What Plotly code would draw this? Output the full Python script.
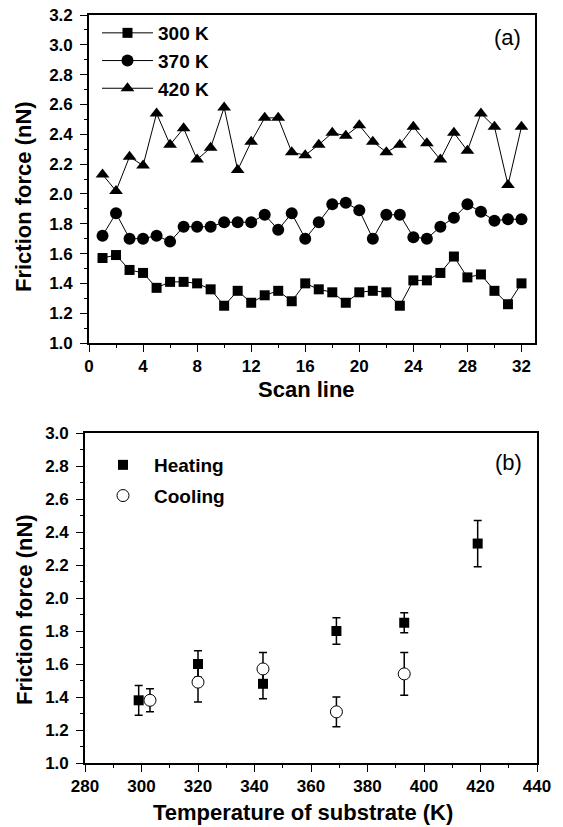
import plotly.graph_objects as go

# ---- Panel (a) data ----
scan_line = list(range(1, 33))
f_300K = [1.57, 1.59, 1.49, 1.47, 1.37, 1.41, 1.41, 1.40, 1.36, 1.25, 1.35, 1.27, 1.32, 1.35, 1.28, 1.40,
          1.36, 1.34, 1.27, 1.34, 1.35, 1.34, 1.25, 1.42, 1.42, 1.47, 1.58, 1.44, 1.46, 1.35, 1.26, 1.40]
f_370K = [1.72, 1.87, 1.70, 1.70, 1.72, 1.68, 1.78, 1.78, 1.78, 1.81, 1.81, 1.81, 1.86, 1.76, 1.87, 1.70,
          1.81, 1.93, 1.94, 1.89, 1.70, 1.86, 1.86, 1.71, 1.70, 1.78, 1.84, 1.93, 1.88, 1.82, 1.83, 1.83]
f_420K = [2.13, 2.02, 2.25, 2.19, 2.54, 2.33, 2.44, 2.23, 2.31, 2.58, 2.16, 2.35, 2.51, 2.51, 2.28, 2.26,
          2.33, 2.41, 2.39, 2.46, 2.35, 2.28, 2.33, 2.45, 2.34, 2.23, 2.41, 2.29, 2.54, 2.45, 2.06, 2.45]

# ---- Panel (b) data ----
heat_T = [299, 320, 343, 369, 393, 419]
heat_F = [1.38, 1.60, 1.48, 1.80, 1.85, 2.33]
heat_err = [0.09, 0.08, 0.09, 0.08, 0.06, 0.14]
cool_T = [303, 320, 343, 369, 393]
cool_F = [1.38, 1.49, 1.57, 1.31, 1.54]
cool_err = [0.07, 0.12, 0.10, 0.09, 0.13]

FONT = "Liberation Sans, Arial, sans-serif"
W, H = 563, 827
ML, MR, MT, MB = 85, 26, 15, 64
PW, PH = W - ML - MR, H - MT - MB

def px_x(p):
    return (p - ML) / PW

def px_y(p):
    return (H - MB - p) / PH

fig = go.Figure()

line_style = dict(color="black", width=1)
fig.add_trace(go.Scatter(x=scan_line, y=f_300K, mode="lines+markers", name="300 K",
                         line=line_style, marker=dict(symbol="square", size=10, color="black"),
                         xaxis="x", yaxis="y", legend="legend", legendgroup="a1"))
fig.add_trace(go.Scatter(x=scan_line, y=f_370K, mode="lines+markers", name="370 K",
                         line=line_style, marker=dict(symbol="circle", size=12, color="black"),
                         xaxis="x", yaxis="y", legend="legend", legendgroup="a2"))
fig.add_trace(go.Scatter(x=scan_line, y=f_420K, mode="lines+markers", name="420 K",
                         line=line_style, marker=dict(symbol="triangle-up", size=12, color="black"),
                         xaxis="x", yaxis="y", legend="legend", legendgroup="a3"))

fig.add_trace(go.Scatter(x=heat_T, y=heat_F, mode="markers", name="Heating",
                         marker=dict(symbol="square", size=10, color="black"),
                         error_y=dict(type="data", array=heat_err, color="black", thickness=1.5, width=4),
                         xaxis="x2", yaxis="y2", legend="legend2", legendgroup="b1"))
fig.add_trace(go.Scatter(x=cool_T, y=cool_F, mode="markers", name="Cooling",
                         marker=dict(symbol="circle", size=12, color="white",
                                     line=dict(color="black", width=1)),
                         error_y=dict(type="data", array=cool_err, color="black", thickness=1.5, width=4),
                         xaxis="x2", yaxis="y2", legend="legend2", legendgroup="b2"))

tickfont = dict(family=FONT, size=17, color="black", weight="bold")
titlefont = dict(family=FONT, size=22, color="black", weight="bold")
legfont = dict(family=FONT, size=19, color="black", weight="bold")

def axis(**kw):
    base = dict(showline=True, linecolor="black", linewidth=1.6, mirror=True,
                ticks="outside", ticklen=7, tickwidth=1.3, tickcolor="black",
                showgrid=False, zeroline=False, tickfont=tickfont, automargin=False)
    base.update(kw)
    return base

minor_style = dict(ticks="outside", ticklen=3, tickcolor="black", tickwidth=1)

def title_ann(text, x, y, angle=0):
    return dict(text=text, x=px_x(x), y=px_y(y), xref="paper", yref="paper",
                xanchor="center", yanchor="middle", textangle=angle,
                showarrow=False, font=titlefont)

fig.update_layout(
    width=W, height=H,
    margin=dict(l=ML, r=MR, t=MT, b=MB, autoexpand=False),
    paper_bgcolor="white", plot_bgcolor="white",
    font=dict(family=FONT, color="black"),
    xaxis=axis(domain=[px_x(89), px_x(535)], range=[0, 33], anchor="y",
               tickmode="array", tickvals=list(range(0, 33, 4)),
               minor=dict(tickmode="array", tickvals=list(range(2, 33, 4)), **minor_style)),
    yaxis=axis(domain=[px_y(343), px_y(15)], range=[1.0, 3.2], anchor="x",
               tickmode="linear", tick0=1.0, dtick=0.2, tickformat=".1f", ticklabelstandoff=4,
               minor=dict(dtick=0.1, **minor_style)),
    xaxis2=axis(domain=[px_x(85), px_x(537)], range=[280, 440], anchor="y2",
                tickmode="linear", tick0=280, dtick=20,
                minor=dict(dtick=10, **minor_style)),
    yaxis2=axis(domain=[px_y(763), px_y(433)], range=[1.0, 3.0], anchor="x2",
                tickmode="linear", tick0=1.0, dtick=0.2, tickformat=".1f", ticklabelstandoff=4,
                minor=dict(dtick=0.1, **minor_style)),
    legend=dict(x=px_x(97), y=px_y(14), xanchor="left", yanchor="top",
                bgcolor="rgba(0,0,0,0)", itemwidth=51, tracegroupgap=0,
                font=legfont),
    legend2=dict(x=px_x(92), y=px_y(446), xanchor="left", yanchor="top",
                 bgcolor="rgba(0,0,0,0)", itemwidth=52, tracegroupgap=3,
                 font=legfont),
    showlegend=True,
    annotations=[
        title_ann("Scan line", 306, 389),
        title_ann("Friction force (nN)", 24, 197, -90),
        title_ann("Temperature of substrate (K)", 303, 812),
        title_ann("Friction force (nN)", 24, 610, -90),
        dict(text="(a)", x=px_x(507), y=px_y(37), xref="paper", yref="paper",
             xanchor="center", yanchor="middle",
             showarrow=False, font=dict(family=FONT, size=22, color="black")),
        dict(text="(b)", x=px_x(508), y=px_y(462), xref="paper", yref="paper",
             xanchor="center", yanchor="middle",
             showarrow=False, font=dict(family=FONT, size=22, color="black")),
    ],
)

fig.write_html("out.html", config={"displayModeBar": False},
               post_script="document.body.style.margin='0px';")
